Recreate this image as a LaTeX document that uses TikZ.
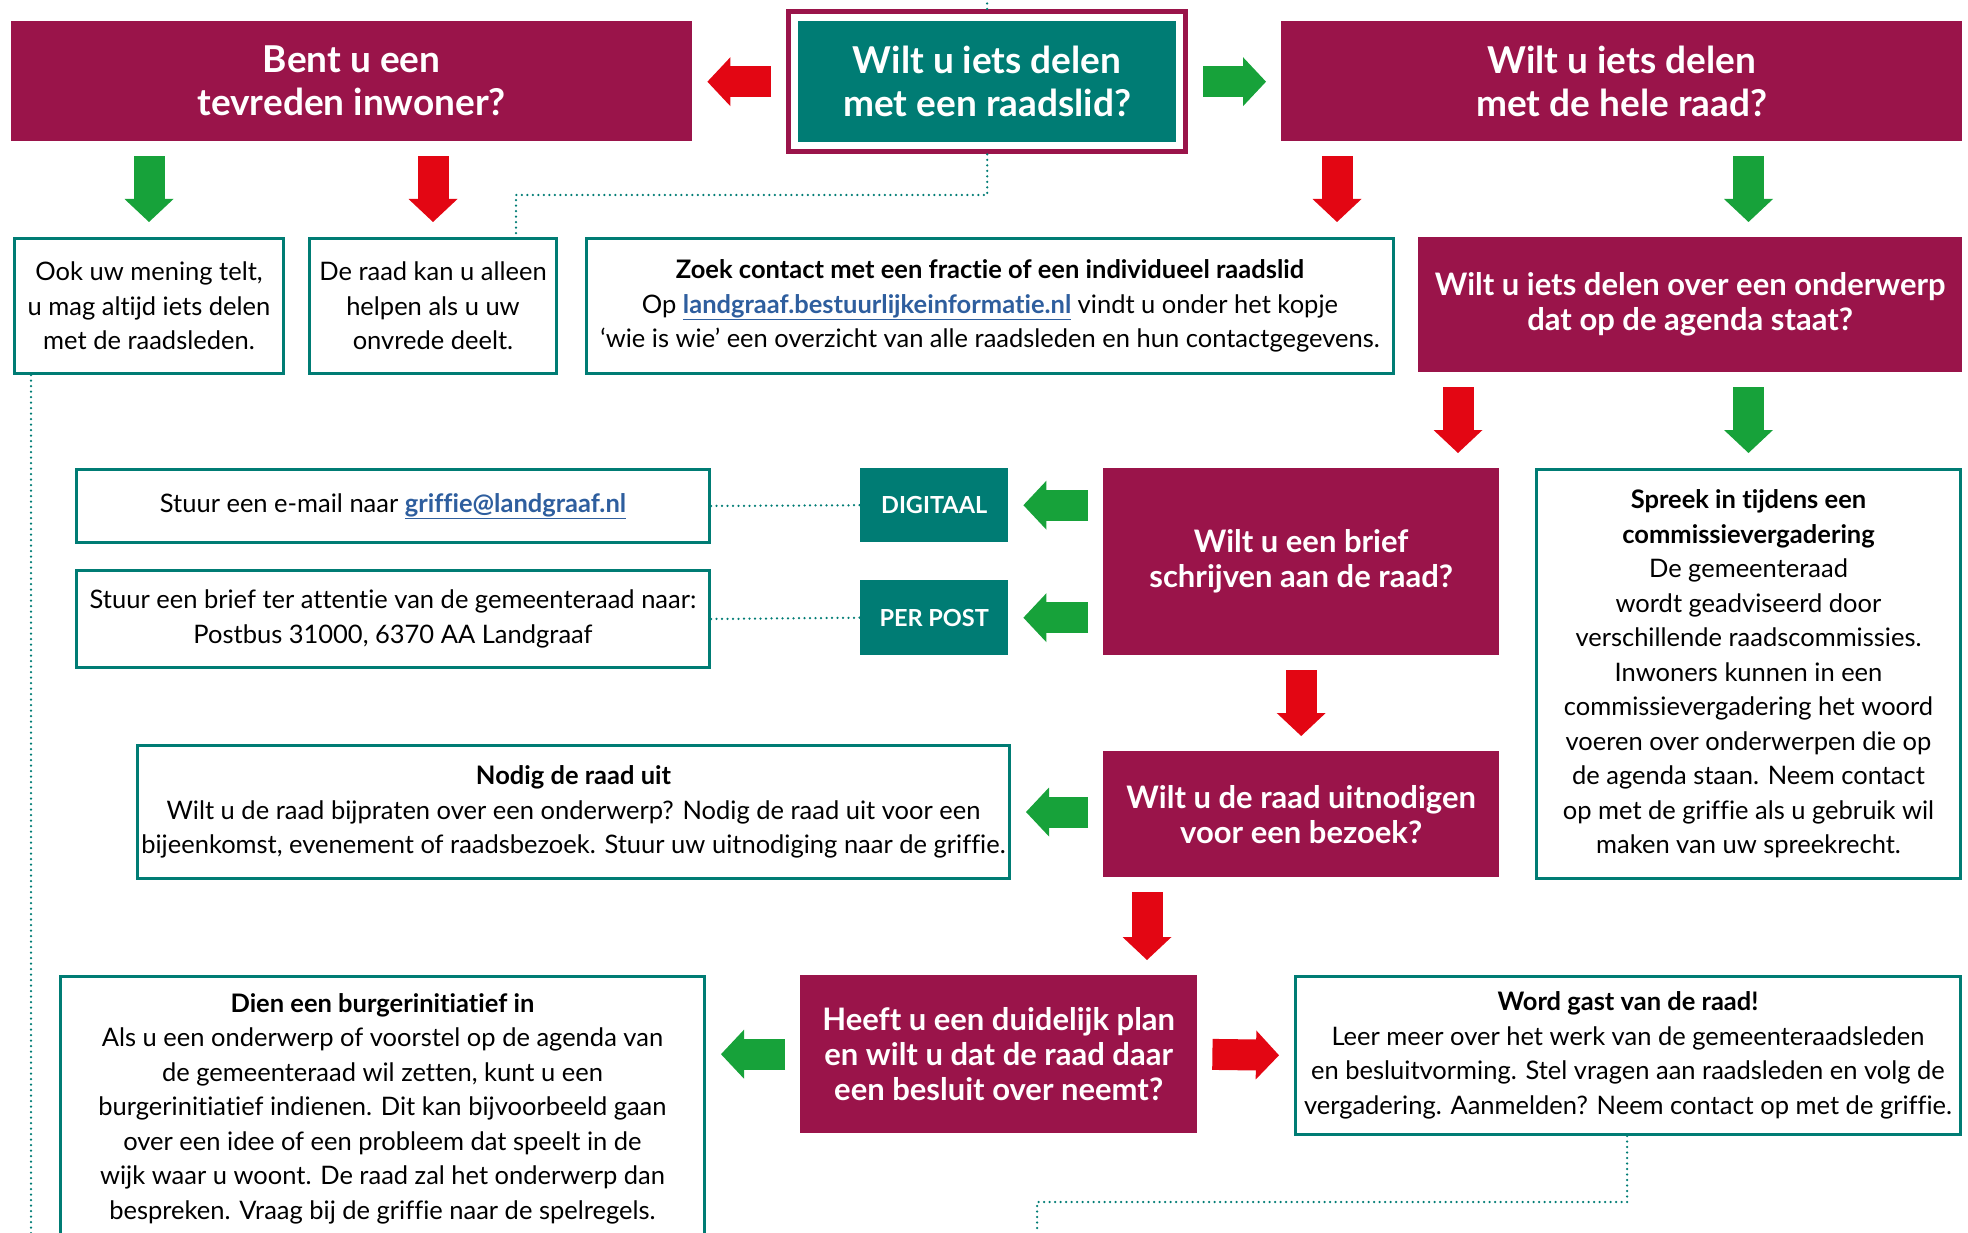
\documentclass[tikz,border=0pt]{standalone}
\usepackage{fontspec}
\setmainfont{Lato}[Ligatures=CommonOff, RawFeature={-liga;-clig;-calt;-dlig}]
\usetikzlibrary{arrows.meta,fit,positioning}

\definecolor{raadrood}{HTML}{9A144A}
\definecolor{raadgroen}{HTML}{007C74}
\definecolor{pijlrood}{HTML}{E30613}
\definecolor{pijlgroen}{HTML}{17A23A}
\definecolor{linkblauw}{HTML}{2E5E9E}

\newcommand\tekstfont{\fontsize{25.5}{34.5}\selectfont}
\newcommand\vraagfont{\fontsize{31}{35}\selectfont\bfseries}
\newcommand\kopfont{\fontsize{37}{43}\selectfont\bfseries}
\newcommand\webadres[1]{\textcolor{linkblauw}{\bfseries\underline{#1}}}

\tikzset{
  maat/.style 2 args={minimum width=#1pt, minimum height=#2pt},
  vak/.style={anchor=north west, inner sep=0pt, align=center},
  kop/.style={vak, fill=raadrood, text=white, font=\kopfont},
  vraag/.style={vak, fill=raadrood, text=white, font=\vraagfont},
  info/.style={vak, draw=raadgroen, line width=3pt, font=\tekstfont},
  kanaal/.style={vak, fill=raadgroen, text=white, font=\fontsize{23.5}{26}\selectfont\bfseries},
  blok/.style={line width=31pt, -{Triangle[length=23pt,width=49pt,line width=0pt]},
    shorten <=15pt, shorten >=15pt},
  ja/.style={blok, pijlgroen},
  nee/.style={blok, pijlrood},
  stippel/.style={raadgroen, line width=2.5pt, dash pattern=on 0pt off 5.5pt, line cap=round}
}

\begin{document}
\begin{tikzpicture}[x=1pt, y=-1pt]
  \useasboundingbox (0,0) rectangle (1968,1233);
  \clip (0,0) rectangle (1968,1233);

  % bovenste rij
  \node[kop, maat={681}{120}] (tevreden) at (11,21) {Bent u een\\tevreden inwoner?};
  \node[kop, fill=raadgroen, maat={378}{121}] (raadslid) at (798,21) {Wilt u iets delen\\met een raadslid?};
  \node[fit=(raadslid), draw=raadrood, line width=5pt, inner sep=9.5pt] (kader) {};
  \node[kop, maat={681}{120}] (heleraad) at (1281,21) {Wilt u iets delen\\met de hele raad?};

  % tweede rij
  \node[info, maat={269}{135}] (mening) at (13,237) {Ook uw mening telt,\\u mag altijd iets delen\\met de raadsleden.};
  \node[info, maat={247}{135}] (onvrede) at (308,237) {De raad kan u alleen\\helpen als u uw\\onvrede deelt.};
  \node[info, maat={807}{135}] (fractie) at (585,237) {\textbf{Zoek contact met een fractie of een individueel raadslid}\\
    Op \webadres{landgraaf.bestuurlijkeinformatie.nl} vindt u onder het kopje\\
    ‘wie is wie’ een overzicht van alle raadsleden en hun contactgegevens.};
  \node[vraag, maat={544}{135}] (agenda) at (1418,237) {Wilt u iets delen over een onderwerp\\dat op de agenda staat?};

  % brief
  \node[info, maat={633}{73}] (email) at (75,468) {Stuur een e-mail naar \webadres{griffie@landgraaf.nl}};
  \node[kanaal, maat={148}{74}] (digitaal) at (860,468) {DIGITAAL};
  \node[vraag, maat={396}{187}] (brief) at (1103,468) {Wilt u een brief\\schrijven aan de raad?};
  \node[info, maat={424}{409}] (inspreken) at (1535,468) {\textbf{Spreek in tijdens een}\\\textbf{commissievergadering}\\
    De gemeenteraad\\wordt geadviseerd door\\verschillende raadscommissies.\\Inwoners kunnen in een\\
    commissievergadering het woord\\voeren over onderwerpen die op\\de agenda staan. Neem contact\\
    op met de griffie als u gebruik wil\\maken van uw spreekrecht.};
  \node[info, maat={633}{97}] (postadres) at (75,569) {Stuur een brief ter attentie van de gemeenteraad naar:\\Postbus 31000, 6370 AA Landgraaf};
  \node[kanaal, maat={148}{75}] (perpost) at (860,580) {PER POST};

  % bezoek
  \node[info, maat={872}{133}] (uitnodigen) at (136,744) {\textbf{Nodig de raad uit}\\
    Wilt u de raad bijpraten over een onderwerp? Nodig de raad uit voor een\\
    bijeenkomst, evenement of raadsbezoek. Stuur uw uitnodiging naar de griffie.};
  \node[vraag, maat={396}{126}] (bezoek) at (1103,751) {Wilt u de raad uitnodigen\\voor een bezoek?};

  % onderste rij
  \node[info, maat={644}{264}] (initiatief) at (59,975) {\textbf{Dien een burgerinitiatief in}\\
    Als u een onderwerp of voorstel op de agenda van\\de gemeenteraad wil zetten, kunt u een\\
    burgerinitiatief indienen. Dit kan bijvoorbeeld gaan\\over een idee of een probleem dat speelt in de\\
    wijk waar u woont. De raad zal het onderwerp dan\\bespreken. Vraag bij de griffie naar de spelregels.};
  \node[vraag, maat={397}{158}] (plan) at (800,975) {Heeft u een duidelijk plan\\en wilt u dat de raad daar\\een besluit over neemt?};
  \node[info, maat={665}{158}] (gast) at (1294,975) {\textbf{Word gast van de raad!}\\
    Leer meer over het werk van de gemeenteraadsleden\\
    en besluitvorming. Stel vragen aan raadsleden en volg de\\
    vergadering. Aanmelden? Neem contact op met de griffie.};

  % hulppunten
  \coordinate (pijlF) at (1337,0);
  \coordinate (pijlI) at (1458,0);
  \coordinate (pijlO) at (1147,0);
  \coordinate (knikB) at (516,195);
  \coordinate (links) at (31,1233);
  \coordinate (knikP) at (1627,1202);
  \coordinate (eindP) at (1037,1233);

  % stippellijnen
  \draw[stippel] (kader.north) -- (kader.north |- 0,0);
  \draw[stippel] (kader.south) |- (knikB) -- (onvrede.north -| knikB);
  \draw[stippel] (mening.south -| links) -- (links);
  \draw[stippel] (email.east) -- (digitaal.west);
  \draw[stippel] (postadres.east) -- (perpost.west);
  \draw[stippel] (gast.south -| knikP) -- (knikP) -| (eindP);

  % pijlen
  \draw[nee] (kader.west) -- (tevreden.east |- kader.west);
  \draw[ja] (kader.east) -- (heleraad.west |- kader.east);
  \draw[ja] (tevreden.south -| mening.north) -- (mening.north);
  \draw[nee] (tevreden.south -| onvrede.north) -- (onvrede.north);
  \draw[nee] (heleraad.south -| pijlF) -- (fractie.north -| pijlF);
  \draw[ja] (heleraad.south -| inspreken.north) -- (agenda.north -| inspreken.north);
  \draw[nee] (agenda.south -| pijlI) -- (brief.north -| pijlI);
  \draw[ja] (agenda.south -| inspreken.north) -- (inspreken.north);
  \draw[ja] (brief.west |- digitaal.east) -- (digitaal.east);
  \draw[ja] (brief.west |- perpost.east) -- (perpost.east);
  \draw[nee] (brief.south) -- (bezoek.north);
  \draw[ja] (bezoek.west |- uitnodigen.east) -- (uitnodigen.east);
  \draw[nee] (bezoek.south -| pijlO) -- (plan.north -| pijlO);
  \draw[ja] (plan.west) -- (plan.west -| initiatief.east);
  \draw[nee] (plan.east) -- (gast.west);
\end{tikzpicture}
\end{document}
